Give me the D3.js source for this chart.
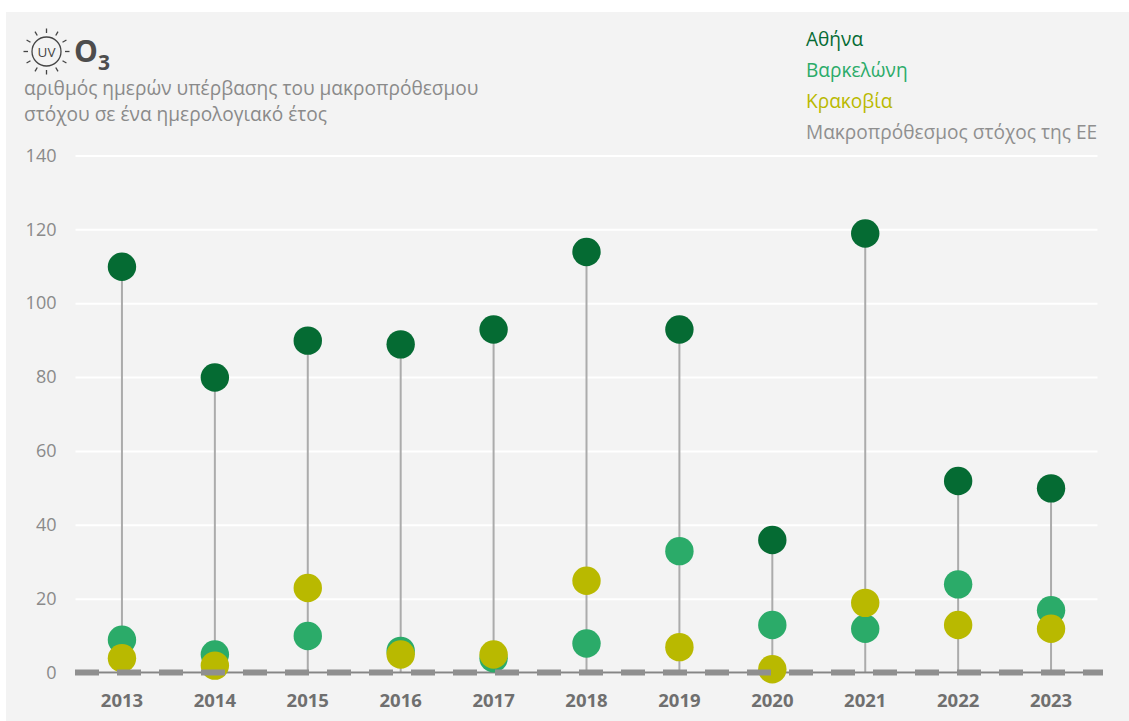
<!DOCTYPE html>
<html><head><meta charset="utf-8">
<script src="https://cdn.jsdelivr.net/npm/d3@7/dist/d3.min.js"></script>
<style>html,body{margin:0;padding:0;background:#fff}svg{display:block}</style>
</head><body><svg id="c" width="1129" height="721"></svg>
<script>
const years=[2013,2014,2015,2016,2017,2018,2019,2020,2021,2022,2023];
const athens=[110,80,90,89,93,114,93,36,119,52,50];
const barcelona=[9,5,10,6,4,8,33,13,12,24,17];
const krakow=[4,2,23,5,5,25,7,1,19,13,12];
const target=[0];
const yTicks=[0,20,40,60,80,100,120,140];
const seriesNames=["Αθήνα","Βαρκελώνη","Κρακοβία","Μακροπρόθεσμος στόχος της ΕΕ"];
const seriesColors=["#056b33","#2bab69","#b9b900","#8f8f8f"];
const subtitle=["αριθμός ημερών υπέρβασης του μακροπρόθεσμου","στόχου σε ένα ημερολογιακό έτος"];
const font="'Open Sans',sans-serif";

const svg=d3.select("#c");
svg.append("rect").attr("x",6).attr("y",12).attr("width",1123).attr("height",709).attr("fill","#f3f3f3");
const x=d3.scaleBand().domain(years).range([75.5,1097.5]);
const y=d3.scaleLinear().domain([0,140]).range([672.5,155.5]);

const yAxis=svg.append("g").attr("transform","translate(75.5,0)").call(d3.axisLeft(y).tickValues(yTicks).tickSize(-1022).tickPadding(19));
yAxis.select(".domain").remove();
yAxis.selectAll(".tick line").attr("stroke","#fff").attr("stroke-width",2);
yAxis.selectAll("text").attr("fill","#8a8a8a").style("font-family",font).style("font-size","18px");

const xAxis=svg.append("g").attr("transform","translate(0,672.5)").call(d3.axisBottom(x).tickSize(0).tickPadding(21));
xAxis.select(".domain").remove();
xAxis.selectAll("text").attr("fill","#6f6f6f").style("font-family",font).style("font-size","18.5px").style("font-weight",700);

svg.append("g").selectAll("line").data(years).join("line")
 .attr("x1",d=>x(d)+x.bandwidth()/2).attr("x2",d=>x(d)+x.bandwidth()/2)
 .attr("y1",(d,i)=>y(athens[i])).attr("y2",y(0))
 .attr("stroke","#ababab").attr("stroke-width",2);

svg.append("line").attr("x1",75.5).attr("x2",1097.5).attr("y1",y(0)).attr("y2",y(0)).attr("stroke","#858585").attr("stroke-width",2);

[athens,barcelona,krakow].forEach((vals,k)=>{
 svg.append("g").selectAll("circle").data(vals).join("circle")
  .attr("cx",(d,i)=>x(years[i])+x.bandwidth()/2).attr("cy",d=>y(d)+0.5).attr("r",14.2).attr("fill",seriesColors[k]);
});

svg.append("line").attr("x1",75).attr("x2",1103).attr("y1",y(target[0])).attr("y2",y(target[0]))
 .attr("stroke",seriesColors[3]).attr("stroke-width",6).attr("stroke-dasharray","24 18");

const icon=svg.append("g").attr("transform","translate(46.5,51.5)");
icon.append("circle").attr("r",14.5).attr("fill","none").attr("stroke","#444").attr("stroke-width",1.3);
d3.range(12).forEach(i=>{
 const a=i*Math.PI/6;
 icon.append("line").attr("x1",18.5*Math.cos(a)).attr("y1",18.5*Math.sin(a)).attr("x2",23*Math.cos(a)).attr("y2",23*Math.sin(a)).attr("stroke","#444").attr("stroke-width",1.3);
});
icon.append("text").attr("text-anchor","middle").attr("y",5).attr("fill","#444").style("font-family",font).style("font-size","13.5px").text("UV");

const t=svg.append("text").attr("x",74).attr("y",62).attr("fill","#4d4d4d").style("font-family",font).style("font-weight",700).style("font-size","30px");
t.append("tspan").text("O");
t.append("tspan").attr("dy",8).style("font-size","21px").text("3");

svg.append("g").selectAll("text").data(subtitle).join("text").attr("x",24).attr("y",(d,i)=>95+i*26)
 .attr("fill","#8a8a8a").style("font-family",font).style("font-size","19.1px").text(d=>d);

svg.append("g").selectAll("text").data(seriesNames).join("text").attr("x",806).attr("y",(d,i)=>46+i*31)
 .attr("fill",(d,i)=>seriesColors[i]).style("font-family",font).style("font-size","19.1px").text(d=>d);
</script></body></html>
